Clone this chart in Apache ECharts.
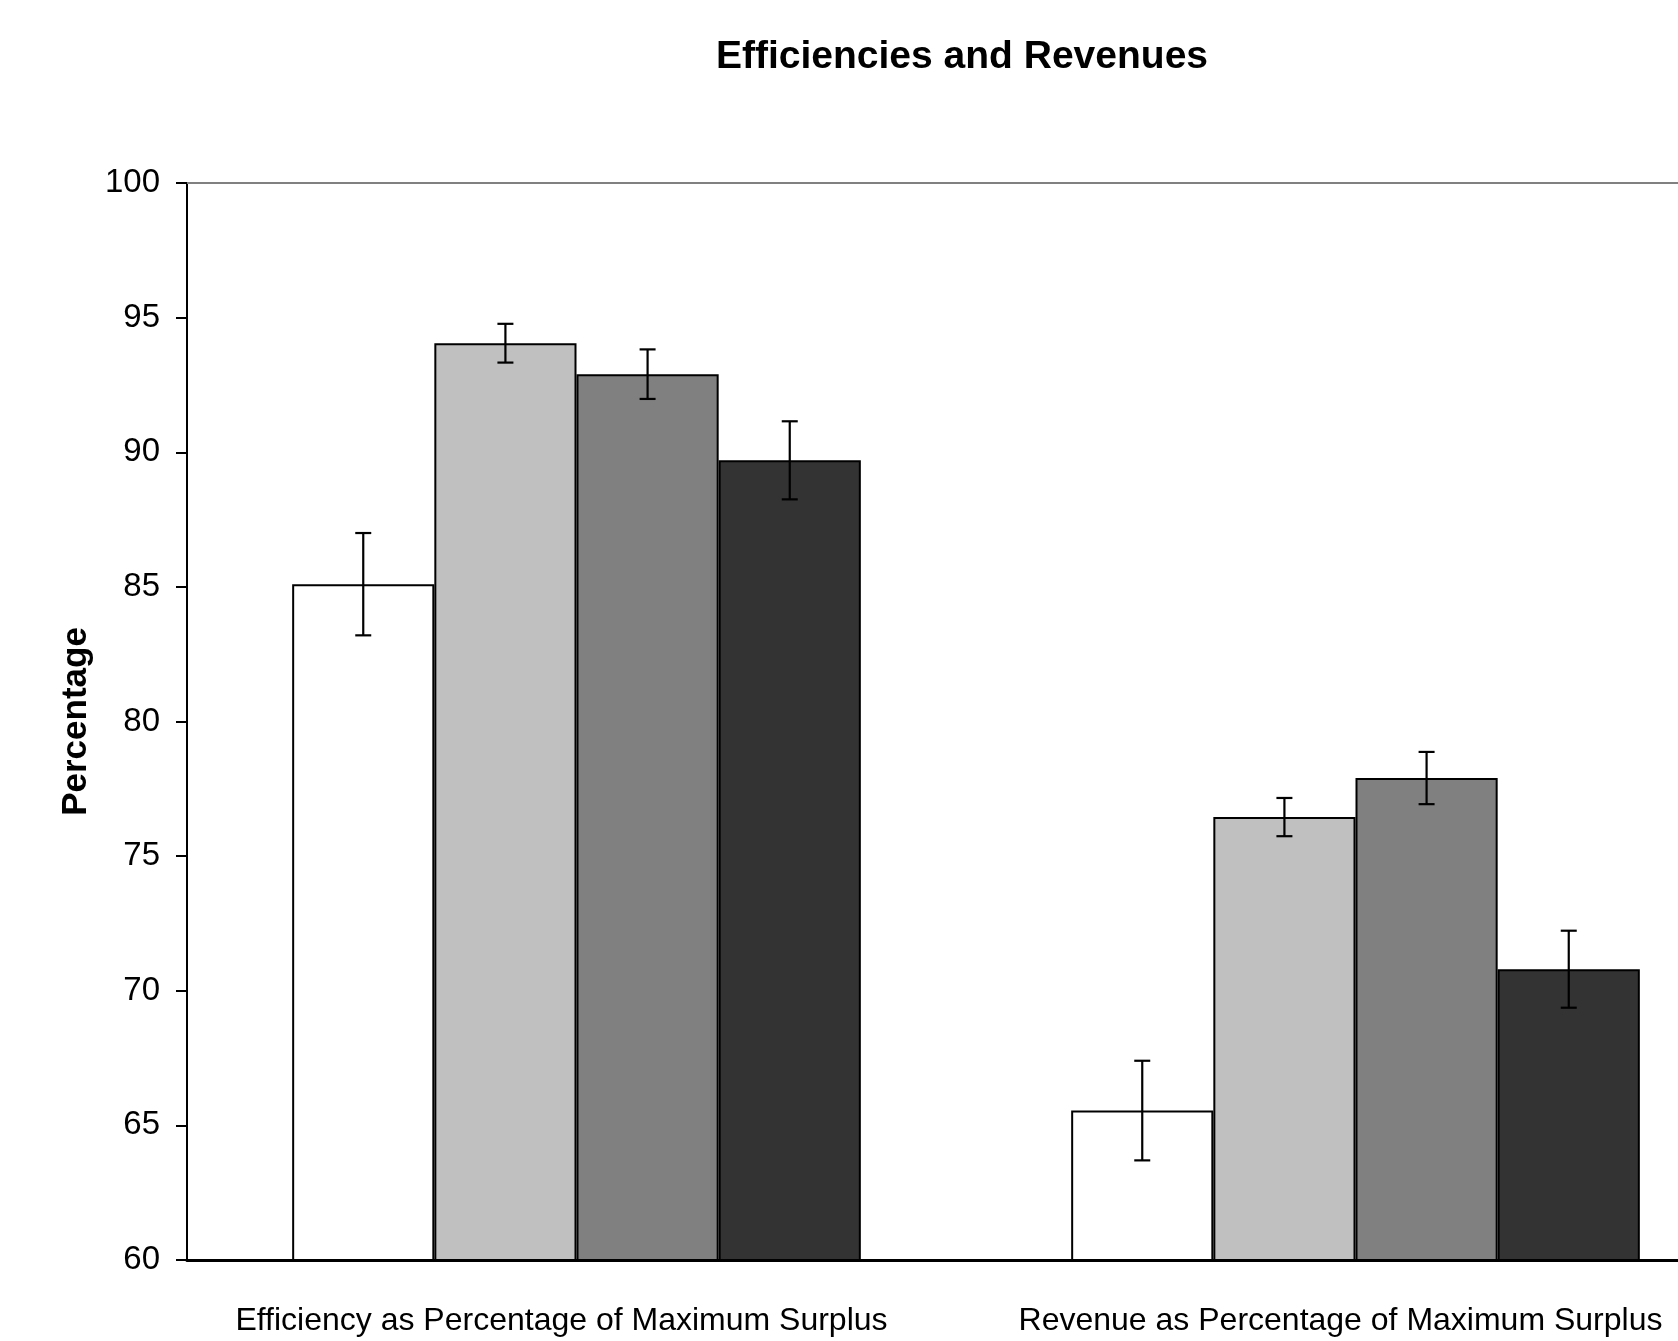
<!DOCTYPE html>
<html>
<head>
<meta charset="utf-8">
<script src="https://cdn.jsdelivr.net/npm/echarts@6/dist/echarts.min.js"></script>
<style>
html,body{margin:0;padding:0;background:#fff;}
#chart{width:1678px;height:1341px;}
</style>
</head>
<body>
<div id="chart"></div>
<script>
var categories = ['Efficiency as Percentage of Maximum Surplus', 'Revenue as Percentage of Maximum Surplus'];
var seriesNames = ['Series 1', 'Series 2', 'Series 3', 'Series 4'];
var values1 = [85.1, 65.55];
var values2 = [94.05, 76.45];
var values3 = [92.9, 77.9];
var values4 = [89.7, 70.8];
var errors1 = [1.9, 1.85];
var errors2 = [0.72, 0.71];
var errors3 = [0.92, 0.97];
var errors4 = [1.45, 1.43];
var yTicks = [60, 65, 70, 75, 80, 85, 90, 95, 100];

var allValues = [values1, values2, values3, values4];
var allErrors = [errors1, errors2, errors3, errors4];
var colors = ['#ffffff', '#c0c0c0', '#808080', '#333333'];
var CAT_GAP = 0.27;
var FONT = 'Liberation Sans, Arial, sans-serif';

var series = [];
for (var s = 0; s < 4; s++) {
  series.push({
    name: seriesNames[s],
    type: 'bar',
    data: allValues[s],
    barGap: '0%',
    barCategoryGap: (CAT_GAP * 100) + '%',
    itemStyle: { color: colors[s], borderColor: '#000', borderWidth: 2 },
    z: 2
  });
}
var errData = [];
for (var s2 = 0; s2 < 4; s2++) {
  for (var c = 0; c < categories.length; c++) {
    errData.push([c, s2, allValues[s2][c], allErrors[s2][c]]);
  }
}
series.push({
  type: 'custom',
  z: 5,
  data: errData,
  renderItem: function (params, api) {
    var ci = api.value(0), si = api.value(1), v = api.value(2), e = api.value(3);
    var band = api.size([1, 0])[0];
    var bw = band * (1 - CAT_GAP) / 4;
    var center = api.coord([ci, v]);
    var x = center[0] + (si - 1.5) * bw;
    var yt = api.coord([ci, v + e])[1];
    var yb = api.coord([ci, v - e])[1];
    var hw = 8;
    var st = { stroke: '#000', lineWidth: 2.2 };
    return {
      type: 'group',
      children: [
        { type: 'line', shape: { x1: x, y1: yt, x2: x, y2: yb }, style: st },
        { type: 'line', shape: { x1: x - hw, y1: yt, x2: x + hw, y2: yt }, style: st },
        { type: 'line', shape: { x1: x - hw, y1: yb, x2: x + hw, y2: yb }, style: st }
      ]
    };
  }
});

var chart = echarts.init(document.getElementById('chart'));
chart.setOption({
  backgroundColor: '#fff',
  animation: false,
  title: {
    text: 'Efficiencies and Revenues',
    left: 957,
    top: 33,
    textAlign: 'center',
    textStyle: { fontFamily: FONT, fontSize: 39, fontWeight: 'bold', color: '#000' }
  },
  grid: { left: 187, top: 183, width: 1558, height: 1077, containLabel: false, outerBoundsMode: 'none' },
  xAxis: [{
    type: 'category',
    data: categories,
    position: 'bottom',
    axisLine: { lineStyle: { color: '#000', width: 3 } },
    axisTick: { show: false },
    axisLabel: { color: '#000', fontFamily: FONT, fontSize: 32, margin: 45, interval: 0, hideOverlap: false, padding: [0, 30, 0, 0] },
    splitLine: { show: false }
  }, {
    type: 'category',
    data: categories,
    position: 'top',
    axisLine: { lineStyle: { color: '#808080', width: 2 } },
    axisTick: { show: false },
    axisLabel: { show: false },
    splitLine: { show: false }
  }],
  yAxis: {
    type: 'value',
    min: yTicks[0],
    max: yTicks[yTicks.length - 1],
    interval: 5,
    name: 'Percentage',
    nameLocation: 'middle',
    nameRotate: 90,
    nameGap: 90,
    nameTextStyle: { fontFamily: FONT, fontSize: 35, fontWeight: 'bold', color: '#000' },
    axisLine: { show: true, lineStyle: { color: '#000', width: 2 } },
    axisTick: { show: true, inside: false, length: 11, lineStyle: { color: '#000', width: 2 } },
    axisLabel: { color: '#000', fontFamily: FONT, fontSize: 33, margin: 27 },
    splitLine: { show: false }
  },
  series: series
});
</script>
</body>
</html>
